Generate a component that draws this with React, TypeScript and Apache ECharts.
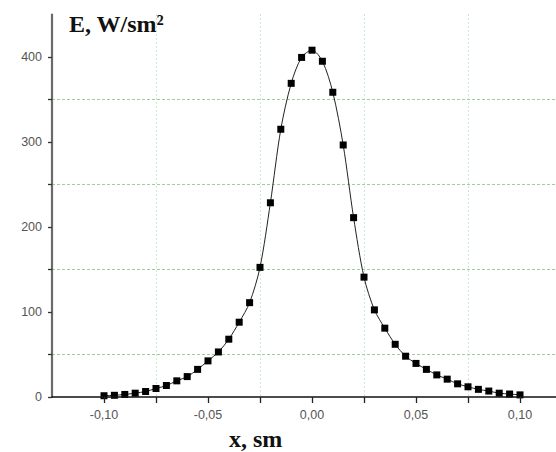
import React, { useEffect, useRef } from "react";
import * as echarts from "echarts";

const xValues = [
  -0.1, -0.095, -0.09, -0.085, -0.08, -0.075, -0.07, -0.065, -0.06, -0.055,
  -0.05, -0.045, -0.04, -0.035, -0.03, -0.025, -0.02, -0.015, -0.01, -0.005,
  0, 0.005, 0.01, 0.015, 0.02, 0.025, 0.03, 0.035, 0.04, 0.045,
  0.05, 0.055, 0.06, 0.065, 0.07, 0.075, 0.08, 0.085, 0.09, 0.095, 0.1,
];
const eValues = [
  1.5, 2, 3, 4.5, 6.5, 10, 13.5, 19, 24, 32.5,
  42.5, 53, 68, 88, 111, 152.5, 228.5, 315, 369, 399.5,
  408, 395, 358.5, 296.5, 211, 141, 102.5, 81, 62, 48,
  39.5, 32.5, 26, 21, 15.5, 12, 9, 7, 4.5, 3.5, 2.5,
];
const xTickLabels = [-0.1, -0.05, 0, 0.05, 0.1];
const xAllTicks = [-0.1, -0.075, -0.05, -0.025, 0, 0.025, 0.05, 0.075, 0.1];
const xGridLines = [-0.075, -0.025, 0.025, 0.075];
const yTickLabels = [0, 100, 200, 300, 400];
const yAllTicks = [0, 50, 100, 150, 200, 250, 300, 350, 400];
const yGridLines = [50, 150, 250, 350];

const fmtX = (v: number) => v.toFixed(2).replace(".", ",");

export default function App() {
  const ref = useRef<HTMLDivElement>(null);
  useEffect(() => {
    if (!ref.current) return;
    const chart = echarts.init(ref.current, undefined, { renderer: "svg" });
    const gridGreen = "#9ad09a";
    const xCommon = {
      type: "value" as const,
      min: -0.125,
      max: 0.125,
    };
    const yCommon = {
      type: "value" as const,
      min: 0,
      max: 450,
    };
    chart.setOption({
      animation: false,
      backgroundColor: "#ffffff",
      grid: { left: 52, right: 28, top: 14.5, bottom: 55 },
      xAxis: [
        {
          ...xCommon,
          position: "bottom",
          z: 5,
          axisLine: { show: true, onZero: false, lineStyle: { color: "#111", width: 1.6 } },
          axisTick: { show: true, length: 6, customValues: xAllTicks, lineStyle: { color: "#222", width: 1.3 } },
          axisLabel: {
            customValues: xTickLabels,
            formatter: (v: number) => fmtX(v),
            color: "#555",
            fontSize: 12.5,
            fontFamily: "Liberation Sans",
            margin: 11,
          },
          splitLine: { show: false },
        },
        {
          ...xCommon,
          position: "top",
          z: 0,
          axisLine: { show: false, onZero: false },
          axisTick: { show: false, customValues: xGridLines },
          axisLabel: { show: false },
          splitLine: { show: true, lineStyle: { color: gridGreen, width: 1, type: [1, 3] } },
        },
      ],
      yAxis: [
        {
          ...yCommon,
          position: "left",
          z: 5,
          axisLine: { show: true, onZero: false, lineStyle: { color: "#6a6a6a", width: 2.2 } },
          axisTick: { show: true, length: 4, customValues: yAllTicks, lineStyle: { color: "#333", width: 1.3 } },
          axisLabel: {
            customValues: yTickLabels,
            color: "#555",
            fontSize: 12.5,
            fontFamily: "Liberation Sans",
            margin: 10,
          },
          splitLine: { show: false },
        },
        {
          ...yCommon,
          position: "right",
          z: 0,
          axisLine: { show: false, onZero: false },
          axisTick: { show: false, customValues: yGridLines },
          axisLabel: { show: false },
          splitLine: { show: true, lineStyle: { color: gridGreen, width: 1, type: [3, 2] } },
        },
      ],
      series: [
        {
          type: "line",
          xAxisIndex: 0,
          yAxisIndex: 0,
          z: 3,
          data: xValues.map((x, i) => [x, eValues[i]]),
          smooth: 0.3,
          symbol: "rect",
          symbolSize: 7,
          showSymbol: true,
          itemStyle: { color: "#000" },
          lineStyle: { color: "#222", width: 1 },
        },
      ],
      graphic: [
        {
          type: "text",
          left: 69,
          top: 12,
          style: {
            text: "E, W/sm²",
            font: "bold 24px 'Liberation Serif'",
            fill: "#111",
          },
        },
        {
          type: "text",
          left: 229,
          top: 427,
          style: {
            text: "x, sm",
            font: "bold 24px 'Liberation Serif'",
            fill: "#111",
          },
        },
      ],
    });
    return () => chart.dispose();
  }, []);
  return (
    <div
      style={{
        position: "absolute",
        left: 0,
        top: 0,
        width: 556,
        height: 452,
        overflow: "hidden",
        background: "#fff",
      }}
    >
      <div ref={ref} style={{ width: 600, height: 452 }} />
    </div>
  );
}
